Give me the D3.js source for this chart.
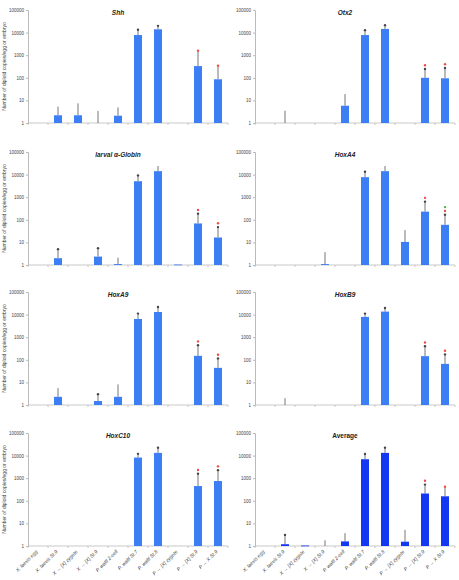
<!DOCTYPE html>
<html>
<head>
<meta charset="utf-8">
<script src="https://cdn.jsdelivr.net/npm/d3@7"></script>
<style>
  body { margin: 0; background: #fff; }
  text { font-family: "Liberation Sans", Arial, sans-serif; }
</style>
</head>
<body>
<svg id="chart" width="459" height="580"></svg>
<script>
const categories = ["X. laevis egg", "X. laevis St.9", "X → [X] zygote", "X → [X] St.9", "P. waltl 2-cell",
  "P. waltl St.7", "P. waltl St.8", "P → [X] zygote", "P → [X] St.9", "P → X St.9"];
const tickValues = [1, 10, 100, 1000, 10000, 100000];
const geneNames = ["Shh", "Otx2", "larval α-Globin", "HoxA4", "HoxA9", "HoxB9", "HoxC10", "Average"];

// mean copies (null = no bar), upper error value, and significance marks (k black, r red, g green)
const shhMean = [null, 2.2, 2.2, null, 2.1, 7800, 14000, null, 330, 86];
const shhErr = [null, 5.3, 7.4, 3.4, 4.9, 12000, 18000, null, 1420, 310];
const shhStars = ["", "", "", "", "", "k", "k", "", "r", "r"];

const otx2Mean = [null, null, null, null, 5.8, 7800, 14500, null, 100, 95];
const otx2Err = [null, 3.5, null, null, 19, 11500, 19000, null, 220, 245];
const otx2Stars = ["", "", "", "", "", "k", "k", "", "kr", "kr"];

const globinMean = [null, 2.0, null, 2.35, 1.1, 5100, 14200, 1.05, 69, 16.5];
const globinErr = [null, 4.5, null, 5, 2.1, 8300, 24000, null, 168, 43];
const globinStars = ["", "k", "", "k", "", "k", "", "", "kr", "kr"];

const hoxA4Mean = [null, null, null, 1.1, null, 7700, 14200, 10.5, 230, 60];
const hoxA4Err = [null, null, null, 3.7, null, 12000, 24000, 35, 575, 152];
const hoxA4Stars = ["", "", "", "", "", "k", "", "", "kr", "krg"];

const hoxA9Mean = [null, 2.3, null, 1.5, 2.3, 6400, 13000, null, 150, 44];
const hoxA9Err = [null, 5.6, null, 2.7, 8.2, 10000, 19700, null, 400, 103];
const hoxA9Stars = ["", "", "", "k", "", "k", "k", "", "kr", "kr"];

const hoxB9Mean = [null, null, null, null, null, 7900, 13600, null, 145, 66];
const hoxB9Err = [null, 2.0, null, null, null, 10000, 17800, null, 360, 155];
const hoxB9Stars = ["", "", "", "", "", "k", "k", "", "kr", "kr"];

const hoxC10Mean = [null, null, null, null, null, 8200, 13200, null, 450, 750];
const hoxC10Err = [null, null, null, null, null, 10800, 20000, null, 1420, 2050];
const hoxC10Stars = ["", "", "", "", "", "k", "k", "", "kr", "kr"];

const avgMean = [null, 1.2, 1.05, null, 1.6, 6900, 13200, 1.55, 210, 158];
const avgErr = [null, 2.8, null, 1.8, 3.7, 10700, 20000, 5.2, 470, 380];
const avgStars = ["", "k", "", "", "", "k", "k", "", "kr", "r"];

const panels = [
  [shhMean, shhErr, shhStars], [otx2Mean, otx2Err, otx2Stars],
  [globinMean, globinErr, globinStars], [hoxA4Mean, hoxA4Err, hoxA4Stars],
  [hoxA9Mean, hoxA9Err, hoxA9Stars], [hoxB9Mean, hoxB9Err, hoxB9Stars],
  [hoxC10Mean, hoxC10Err, hoxC10Stars], [avgMean, avgErr, avgStars]
];

const svg = d3.select("#chart");
const colLeft = [28, 255], plotW = 200;
const rowTop = [10, 152, 292, 433], plotH = 113;
const starColor = { k: "#444", r: "#ee4b43", g: "#54b04a" };

panels.forEach((p, i) => {
  const [means, errs, stars] = p;
  const col = i % 2, row = Math.floor(i / 2);
  const g = svg.append("g").attr("transform", `translate(${colLeft[col]},${rowTop[row]})`);

  const x = d3.scaleBand().domain(categories).range([0, plotW]);
  const y = d3.scaleLog().domain([1, 100000]).range([plotH, 0]);
  const barColor = i === 7 ? "#1437f2" : "#3c7ff5";

  // y axis
  const ya = g.append("g").call(d3.axisLeft(y).tickValues(tickValues).tickFormat(d3.format("d")).tickSize(2).tickPadding(2));
  ya.select(".domain").attr("stroke", "#bbb");
  ya.selectAll(".tick line").attr("stroke", "#bbb");
  ya.selectAll("text").attr("font-size", 4.5).attr("fill", "#444");

  // x axis line with boundary ticks
  g.append("line").attr("x1", 0).attr("x2", plotW).attr("y1", plotH).attr("y2", plotH).attr("stroke", "#bbb").attr("stroke-width", 0.8);
  g.selectAll(".xtick").data(d3.range(categories.length + 1)).enter().append("line")
    .attr("x1", d => d * x.step()).attr("x2", d => d * x.step())
    .attr("y1", plotH).attr("y2", plotH + 2).attr("stroke", "#bbb").attr("stroke-width", 0.8);

  // error lines
  categories.forEach((c, j) => {
    if (errs[j] == null) return;
    const cx = x(c) + x.bandwidth() / 2;
    g.append("line").attr("x1", cx).attr("x2", cx)
      .attr("y1", y(means[j] || 1)).attr("y2", y(errs[j]))
      .attr("stroke", "#666").attr("stroke-width", 0.9);
  });

  // bars
  g.selectAll(".bar").data(categories.map((c, j) => ({ c, v: means[j] })).filter(d => d.v != null))
    .enter().append("rect")
    .attr("x", d => x(d.c) + x.bandwidth() / 2 - 4)
    .attr("width", 8)
    .attr("y", d => y(d.v))
    .attr("height", d => Math.max(0.8, plotH - y(d.v)))
    .attr("fill", barColor);

  // significance marks
  categories.forEach((c, j) => {
    const s = stars[j];
    if (!s) return;
    const cx = x(c) + x.bandwidth() / 2;
    const top = y(errs[j] || means[j] || 1);
    s.split("").forEach((k, n) => {
      g.append("circle").attr("cx", cx).attr("cy", top - 1 - n * 3.8).attr("r", 1.2).attr("fill", starColor[k]);
    });
  });

  // title
  g.append("text").attr("x", 90).attr("y", 5).attr("text-anchor", "middle")
    .attr("font-size", 6.5).attr("font-weight", "bold")
    .attr("font-style", i === 7 ? "normal" : "italic").attr("fill", "#222")
    .text(geneNames[i]);

  // y label on left column
  if (col === 0) {
    g.append("text").attr("transform", `translate(${-22},${plotH / 2}) rotate(-90)`)
      .attr("text-anchor", "middle").attr("font-size", 5).attr("fill", "#444")
      .text("Number of diploid copies/egg or embryo");
  }

  // category labels on bottom row
  if (row === 3) {
    g.selectAll(".xlab").data(categories).enter().append("text")
      .attr("transform", d => `translate(${x(d) + x.bandwidth() / 2},${plotH + 6}) rotate(-45)`)
      .attr("text-anchor", "end").attr("font-size", 5).attr("fill", "#444")
      .attr("font-style", "italic")
      .text(d => d);
  }
});
</script>
</body>
</html>
